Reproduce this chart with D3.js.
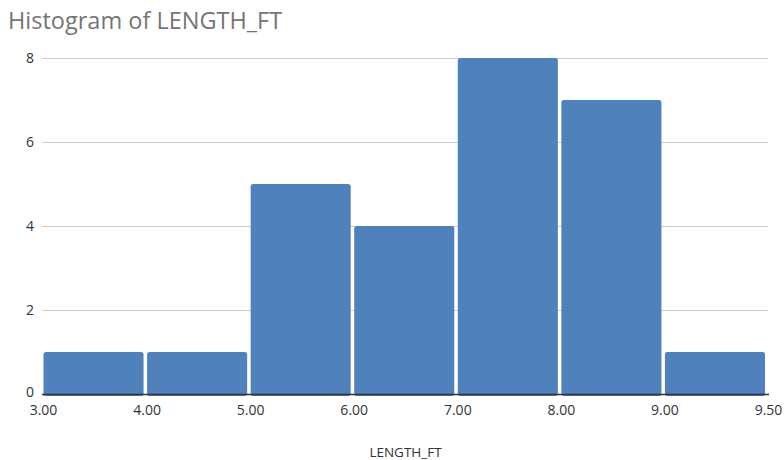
<!DOCTYPE html>
<html><head><meta charset="utf-8">
<script src="https://cdn.jsdelivr.net/npm/d3@7"></script>
<style>
body{margin:0;background:#fff;}
text{font-family:"Open Sans","Noto Sans",sans-serif;}
</style></head>
<body><svg id="c" width="784" height="460"></svg>
<script>
const binEdges = ["3.00","4.00","5.00","6.00","7.00","8.00","9.00","9.50"];
const counts = [1, 1, 5, 4, 8, 7, 1];
const yTicks = [0, 2, 4, 6, 8];
const title = "Histogram of LENGTH_FT";
const xTitle = "LENGTH_FT";

const svg = d3.select("#c");
const mLeft = 43, mRight = 768, mTop = 58, mBottom = 394;

const x = d3.scalePoint().domain(binEdges).range([mLeft, mRight]);
const y = d3.scaleLinear().domain([0, 8]).range([mBottom, mTop]);

svg.append("text").attr("x", 8).attr("y", 29).attr("fill", "#757575")
  .attr("font-size", 23.5).text(title);

// grid
svg.append("g").selectAll("line").data(yTicks.filter(d => d > 0)).join("line")
  .attr("x1", mLeft - 1).attr("x2", mRight).attr("y1", d => y(d) + 0.5).attr("y2", d => y(d) + 0.5)
  .attr("stroke", "#cccccc").attr("stroke-width", 1);

// y labels
const yAxis = d3.axisLeft(y).tickValues(yTicks).tickSize(0).tickPadding(9).tickFormat(d3.format("d"));
const gy = svg.append("g").attr("transform", `translate(${mLeft},0)`).call(yAxis);
gy.select(".domain").remove();
gy.selectAll("text").attr("font-size", 14).attr("fill", "#333").attr("font-family", '"Open Sans",sans-serif');
gy.selectAll(".tick").filter(d => d === 0).select("text").attr("dy", "0.2em");

// bars
const bins = counts.map((c, i) => ({c, x0: binEdges[i], x1: binEdges[i + 1]}));
svg.append("g").selectAll("rect").data(bins).join("rect")
  .attr("x", d => x(d.x0) + 0.5)
  .attr("width", d => x(d.x1) - x(d.x0) - 3.5)
  .attr("y", d => y(d.c))
  .attr("height", d => mBottom - y(d.c) + 2)
  .attr("rx", 2.5)
  .attr("fill", "#4f81bd");

// baseline
svg.append("line").attr("x1", mLeft - 1).attr("x2", mRight + 1).attr("y1", mBottom + 0.5).attr("y2", mBottom + 0.5)
  .attr("stroke", "#333").attr("stroke-width", 1.5);

// x labels
const xAxis = d3.axisBottom(x).tickSize(0).tickPadding(10);
const gx = svg.append("g").attr("transform", `translate(0,${mBottom + 1})`).call(xAxis);
gx.select(".domain").remove();
gx.selectAll("text").attr("font-size", 14).attr("fill", "#333").attr("font-family", '"Open Sans",sans-serif');

svg.append("text").attr("x", (mLeft + mRight) / 2).attr("y", 457).attr("text-anchor", "middle")
  .attr("font-size", 13.5).attr("fill", "#333").text(xTitle);
</script></body></html>
